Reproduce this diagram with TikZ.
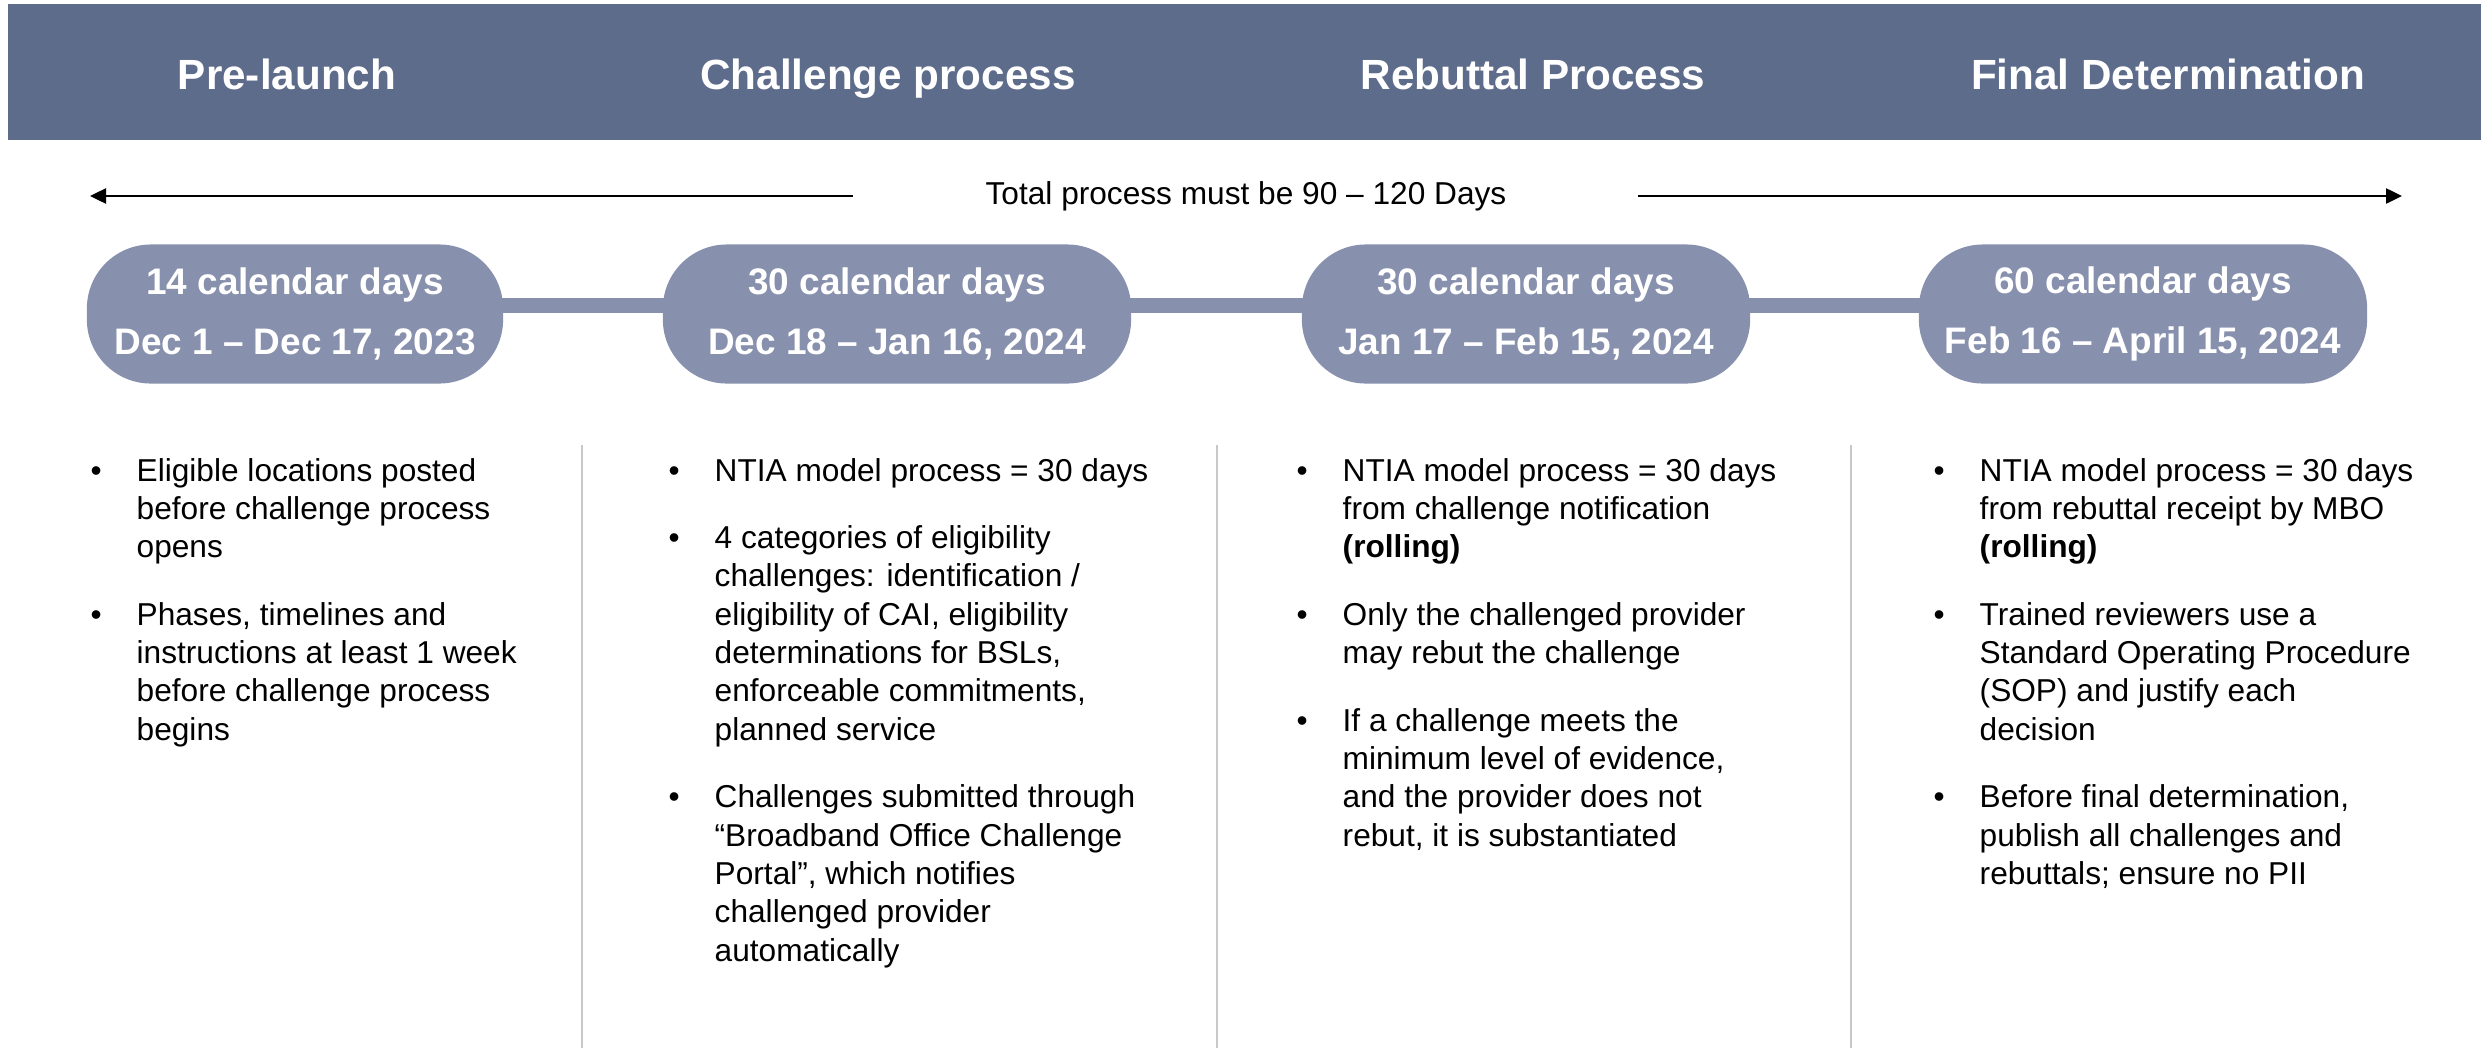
\documentclass[tikz,border=0pt]{standalone}
\usepackage{fontspec}
\setmainfont{Liberation Sans}
\usetikzlibrary{arrows.meta,backgrounds}

\definecolor{bandblue}{HTML}{5E6C8B}
\definecolor{pillblue}{HTML}{8790AD}
\definecolor{rulegray}{HTML}{C8C8C8}

% bullet set in the left margin of a column
\newcommand\bpt{\noindent\llap{\textbullet\hspace{0.35cm}}}
% a column of bullet points
\newcommand\bcol[1]{%
  \begin{minipage}[t]{5cm}\raggedright
  \fontsize{9}{10.9}\selectfont
  \setlength{\parskip}{8.3pt}#1%
  \end{minipage}}

\begin{document}
\begin{tikzpicture}[x=0.01cm,y=-0.01cm,
  phase/.style={text=white,font=\bfseries\fontsize{12}{14}\selectfont,anchor=base,inner sep=0pt},
  pill/.style={fill=pillblue,text=white,rounded corners=0.64cm,minimum height=1.39cm,
    inner sep=0pt,align=center,font=\bfseries\fontsize{10.5}{17.1}\selectfont},
  bar/.style={draw=pillblue,line width=0.15cm},
  span/.style={draw=black,line width=0.7pt,-{Triangle[length=0.16cm,width=0.15cm]}},
  divider/.style={draw=rulegray,line width=0.6pt},
  points/.style={anchor=base west,inner sep=0pt,text=black}]

\useasboundingbox (0,0) rectangle (2481,1048);

% title band
\fill[bandblue] (8,4) rectangle (2481,140);
\node[phase] (h1) at (287,89) {Pre-launch};
\node[phase] (h2) at (888,89) {Challenge process};
\node[phase] (h3) at (1533,89) {Rebuttal Process};
\node[phase] (h4) at (2168,89) {Final Determination};

% overall duration
\node[font=\fontsize{9}{11}\selectfont,inner sep=0pt] (tot) at (1246,196) {Total process must be 90 – 120 Days};
\coordinate (la) at (853,196);
\coordinate (lb) at (90,196);
\coordinate (ra) at (1638,196);
\coordinate (rb) at (2402,196);
\draw[span] (la) -- (lb);
\draw[span] (ra) -- (rb);

% phase durations
\node[pill,minimum width=4.16cm] (c1) at (295,314) {14 calendar days\\Dec 1 – Dec 17, 2023};
\node[pill,minimum width=4.68cm] (c2) at (897,314) {30 calendar days\\Dec 18 – Jan 16, 2024};
\node[pill,minimum width=4.48cm] (c3) at (1526,314) {30 calendar days\\Jan 17 – Feb 15, 2024};
\node[pill,minimum width=4.48cm] (c4) at (2143,314) {60 calendar days\\Feb 16 – April 15, 2024};
\begin{scope}[on background layer]
  \draw[bar] ([yshift=0.085cm]c1.center) -- ([yshift=0.085cm]c2.center);
  \draw[bar] ([yshift=0.085cm]c2.center) -- ([yshift=0.085cm]c3.center);
  \draw[bar] ([yshift=0.085cm]c3.center) -- ([yshift=0.085cm]c4.center);
\end{scope}

% column dividers
\draw[divider] (582,445) -- (582,1048);
\draw[divider] (1217,445) -- (1217,1048);
\draw[divider] (1851,445) -- (1851,1048);

% details per phase
\node[points] (b1) at (136,481) {\bcol{%
\bpt Eligible locations posted\\before challenge process\\opens\par
\bpt Phases, timelines and\\instructions at least 1 week\\before challenge process\\begins\par}};

\node[points] (b2) at (714,481) {\bcol{%
\bpt NTIA model process = 30 days\par
\bpt 4 categories of eligibility\\challenges: identification /\\eligibility of CAI, eligibility\\determinations for BSLs,\\enforceable commitments,\\planned service\par
\bpt Challenges submitted through\\“Broadband Office Challenge\\Portal”, which notifies\\challenged provider\\automatically\par}};

\node[points] (b3) at (1342,481) {\bcol{%
\bpt NTIA model process = 30 days\\from challenge notification\\\textbf{(rolling)}\par
\bpt Only the challenged provider\\may rebut the challenge\par
\bpt If a challenge meets the\\minimum level of evidence,\\and the provider does not\\rebut, it is substantiated\par}};

\node[points] (b4) at (1979,481) {\bcol{%
\bpt NTIA model process = 30 days\\from rebuttal receipt by MBO\\\textbf{(rolling)}\par
\bpt Trained reviewers use a\\Standard Operating Procedure\\(SOP) and justify each\\decision\par
\bpt Before final determination,\\publish all challenges and\\rebuttals; ensure no PII\par}};

\end{tikzpicture}
\end{document}
